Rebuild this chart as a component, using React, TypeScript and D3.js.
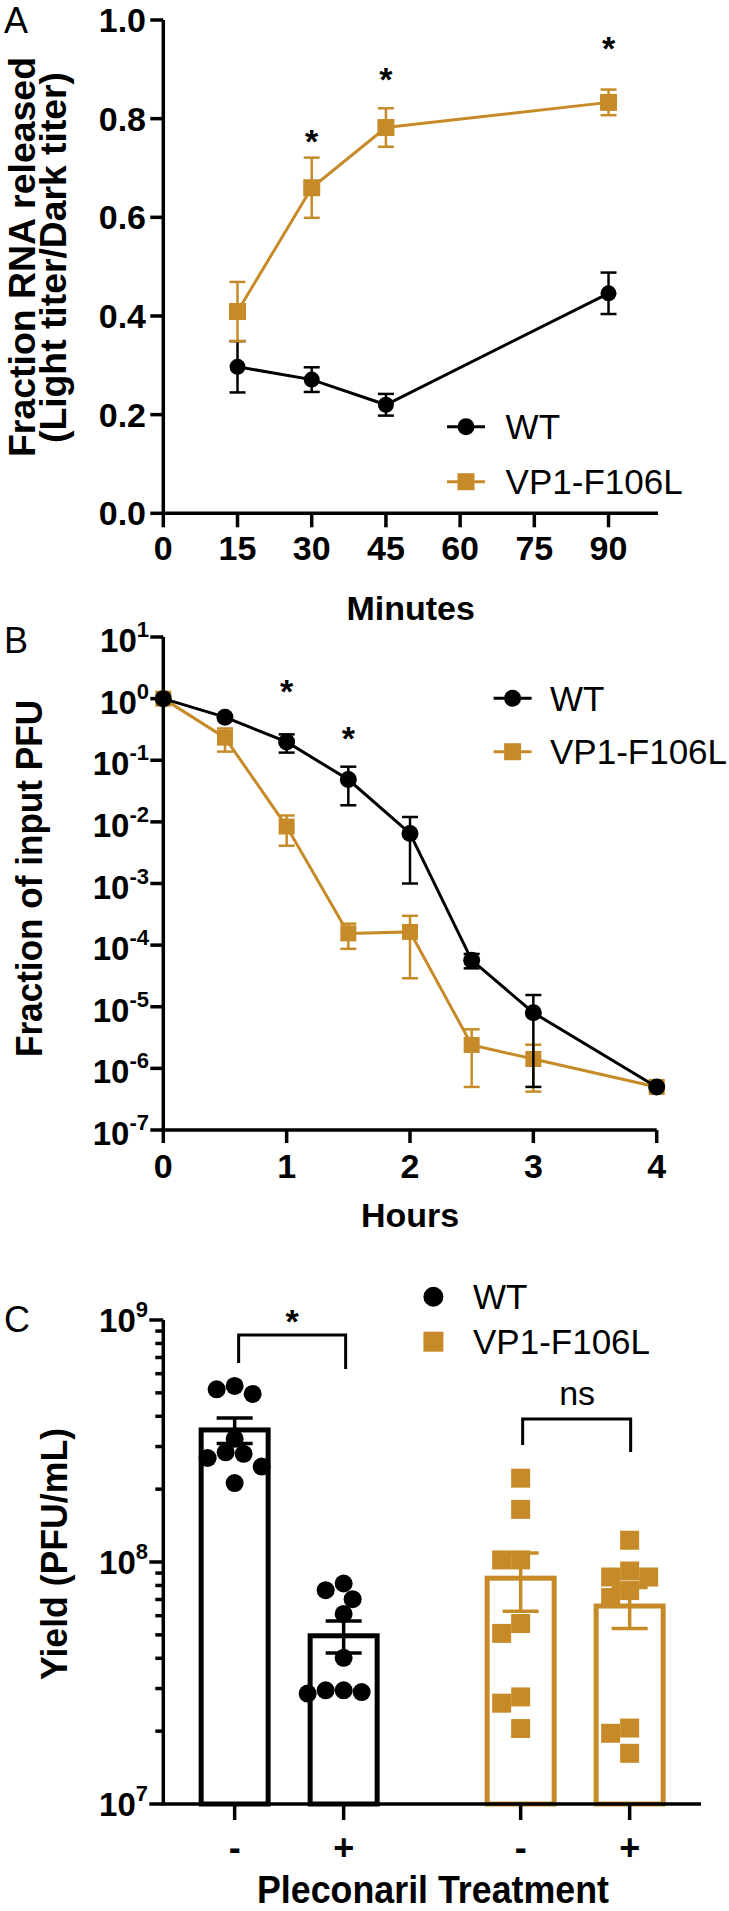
import * as d3 from 'd3';
import React from 'react';

const W = 729;
const H = 1911;
const ORANGE = '#C68B28';
const FONT = '"Liberation Sans", Arial, Helvetica, sans-serif';

// ---- panel A: RNA release ----
const minutes = [15, 30, 45, 90];
const wtRelease = [0.297, 0.271, 0.22, 0.446];
const wtReleaseSem = [0.052, 0.025, 0.022, 0.042];
const mutRelease = [0.409, 0.66, 0.782, 0.833];
const mutReleaseSem = [0.06, 0.061, 0.039, 0.026];
const minuteTicks = [0, 15, 30, 45, 60, 75, 90];
const releaseTicks = [0, 0.2, 0.4, 0.6, 0.8, 1.0];
const releaseStarMinutes = [30, 45, 90];
const releaseStarLevels = [0.77, 0.895, 0.959];

// ---- panel B: survival ----
const hours = [0, 0.5, 1, 1.5, 2, 2.5, 3, 4];
const wtSurvival = [1, 0.5, 0.198, 0.0486, 0.0065, 5.7e-5, 8e-6, 5e-7];
const wtSurvivalSem = [0, 0.03, 0.065, 0.03, 0.0055, 1.5e-5, 7.5e-6, 0];
const mutSurvival = [1, 0.233, 0.0084, 1.55e-4, 1.64e-4, 2.4e-6, 1.42e-6, 5e-7];
const mutSurvivalSem = [0, 0.095, 0.0043, 6.8e-5, 1.35e-4, 1.9e-6, 1e-6, 0];
const hourTicks = [0, 1, 2, 3, 4];
const pfuExponents = [1, 0, -1, -2, -3, -4, -5, -6, -7];
const survivalStarHours = [1, 1.5];
const survivalStarLevels = [1.75, 0.306];

// ---- panel C: yield ----
const groups = ['WT', 'VP1-F106L'];
const treatments = ['-', '+'];
const yieldWtMinus = [5.34e8, 4.95e8, 5.17e8, 3.23e8, 2.84e8, 2.69e8, 2.8e8, 2.48e8, 2.12e8];
const yieldWtPlus = [7.65e7, 8.15e7, 7.02e7, 6.1e7, 4.02e7, 2.95e7, 2.9e7, 2.86e7, 2.95e7];
const yieldMutMinus = [2.22e8, 1.65e8, 1.02e8, 1.02e8, 5.57e7, 5.07e7, 2.77e7, 2.61e7, 2.05e7];
const yieldMutPlus = [1.23e8, 9.18e7, 8.67e7, 8.67e7, 7.62e7, 7.13e7, 2.06e7, 1.96e7, 1.62e7];
const yieldExponents = [9, 8, 7];

const xA = d3.scaleLinear().domain([0, 100]).range([163.3, 658]);
const yA = d3.scaleLinear().domain([0, 1]).range([513.3, 20]);
const xB = d3.scaleLinear().domain([0, 4]).range([163.3, 656.7]);
const yB = d3.scaleLog().domain([1e-7, 10]).range([1130, 637]);
const yC = d3.scaleLog().domain([1e7, 1e9]).range([1804, 1320]);
const xGroup = d3.scalePoint<string>().domain(groups).range([163.3, 701]).padding(0.44);
const xTreat = d3.scalePoint<string>().domain(treatments).range([-54.5, 54.5]);

// simple beeswarm: place each point at the nearest free half-step offset
function swarm(ys: number[], size: number) {
  const order = d3.range(ys.length).sort((a, b) => ys[a] - ys[b]);
  const placed: { x: number; y: number }[] = [];
  const out: number[] = new Array(ys.length).fill(0);
  const step = size / 2;
  order.forEach(i => {
    for (let k = 0; k < 12; k++) {
      const cand = k === 0 ? 0 : (k % 2 === 0 ? 1 : -1) * Math.ceil(k / 2) * step;
      const ok = placed.every(p => Math.hypot(p.x - cand, p.y - ys[i]) >= size * 0.9);
      if (ok) {
        out[i] = cand;
        placed.push({ x: cand, y: ys[i] });
        break;
      }
    }
  });
  return out;
}

// rotated axis title, drawn from its bottom end upwards with a fixed length
function VTitle({ x, bottom, length, size, children }: any) {
  return (
    <text transform={`translate(${x},${bottom}) rotate(-90)`} fontSize={size} fontWeight="bold"
      textLength={length} lengthAdjust="spacingAndGlyphs">{children}</text>
  );
}

function ErrorBars({ xs, means, sems, color, cap, sx, sy }: any) {
  return (
    <g stroke={color} strokeWidth={2.5}>
      {means.map((m: number, i: number) => {
        if (sems[i] === 0) return null;
        const x = sx(xs[i]);
        const lo = sy(Math.max(m - sems[i], 1e-9));
        const hi = sy(m + sems[i]);
        return (
          <g key={i}>
            <line x1={x} x2={x} y1={lo} y2={hi} />
            <line x1={x - cap} x2={x + cap} y1={lo} y2={lo} />
            <line x1={x - cap} x2={x + cap} y1={hi} y2={hi} />
          </g>
        );
      })}
    </g>
  );
}

function Series({ xs, means, sems, color, square, sx, sy, size }: any) {
  const line = d3.line<number>().x((d, i) => sx(xs[i])).y(d => sy(d));
  return (
    <g>
      <ErrorBars xs={xs} means={means} sems={sems} color={color} cap={8} sx={sx} sy={sy} />
      <path d={line(means) || ''} fill="none" stroke={color} strokeWidth={3} />
      {means.map((m: number, i: number) =>
        square ? (
          <rect key={i} x={sx(xs[i]) - size} y={sy(m) - size} width={size * 2} height={size * 2} fill={color} />
        ) : (
          <circle key={i} cx={sx(xs[i])} cy={sy(m)} r={size} fill={color} />
        )
      )}
    </g>
  );
}

function LegendRow({ x, y, textX, label, color, square, withLine }: any) {
  const s = withLine ? 8.5 : 10;
  return (
    <g>
      {withLine && <line x1={x - 19} x2={x + 19} y1={y} y2={y} stroke={color} strokeWidth={3} />}
      {square ? (
        <rect x={x - s} y={y - s} width={s * 2} height={s * 2} fill={color} />
      ) : (
        <circle cx={x} cy={y} r={s} fill={color} />
      )}
      <text x={textX} y={y + 12.5} fontSize={35} fill="#000">{label}</text>
    </g>
  );
}

function PowerLabel({ x, y, exp }: any) {
  return (
    <text x={x} y={y} textAnchor="end" fontSize={33} fontWeight="bold">
      10<tspan dy={-15} fontSize={22}>{exp}</tspan>
    </text>
  );
}

function PanelA() {
  const [x0, x1] = xA.range();
  return (
    <g>
      <text x={4} y={33} fontSize={36}>A</text>
      <VTitle x={35} bottom={457} length={400} size={37}>Fraction RNA released</VTitle>
      <VTitle x={66} bottom={443} length={371} size={37}>(Light titer/Dark titer)</VTitle>
      <g stroke="#000" strokeWidth={3.5} fill="none">
        <path d={`M${x0},${yA(1)}V${yA(0)}H${x1}`} />
        {releaseTicks.map(t => <line key={t} x1={x0 - 13} x2={x0} y1={yA(t)} y2={yA(t)} />)}
        {minuteTicks.map(t => <line key={t} x1={xA(t)} x2={xA(t)} y1={yA(0)} y2={yA(0) + 14} />)}
      </g>
      {releaseTicks.map(t => (
        <text key={t} x={146} y={yA(t) + 12} textAnchor="end" fontSize={34} fontWeight="bold">{d3.format('.1f')(t)}</text>
      ))}
      {minuteTicks.map(t => (
        <text key={t} x={xA(t)} y={560} textAnchor="middle" fontSize={34} fontWeight="bold">{t}</text>
      ))}
      <text x={(x0 + x1) / 2} y={620} textAnchor="middle" fontSize={34} fontWeight="bold">Minutes</text>
      <Series xs={minutes} means={wtRelease} sems={wtReleaseSem} color="#000" sx={xA} sy={yA} size={8} />
      <Series xs={minutes} means={mutRelease} sems={mutReleaseSem} color={ORANGE} square sx={xA} sy={yA} size={8.5} />
      {releaseStarMinutes.map((m, i) => (
        <text key={m} x={xA(m)} y={yA(releaseStarLevels[i]) + 19.5} textAnchor="middle" fontSize={34} fontWeight="bold">*</text>
      ))}
      <LegendRow x={466} y={426.7} textX={505.6} label="WT" color="#000" withLine />
      <LegendRow x={466} y={481.7} textX={505.6} label="VP1-F106L" color={ORANGE} square withLine />
    </g>
  );
}

function PanelB() {
  const [x0, x1] = xB.range();
  return (
    <g>
      <text x={4} y={653} fontSize={36}>B</text>
      <VTitle x={42} bottom={1057} length={357} size={36}>Fraction of input PFU</VTitle>
      <g stroke="#000" strokeWidth={3.5} fill="none">
        <path d={`M${x0},${yB(10)}V${yB(1e-7)}H${x1}`} />
        {pfuExponents.map(e => <line key={e} x1={x0 - 13} x2={x0} y1={yB(10 ** e)} y2={yB(10 ** e)} />)}
        {hourTicks.map(t => <line key={t} x1={xB(t)} x2={xB(t)} y1={yB(1e-7)} y2={yB(1e-7) + 13} />)}
      </g>
      {pfuExponents.map(e => <PowerLabel key={e} x={149} y={yB(10 ** e) + 15} exp={e} />)}
      {hourTicks.map(t => (
        <text key={t} x={xB(t)} y={1178} textAnchor="middle" fontSize={34} fontWeight="bold">{t}</text>
      ))}
      <text x={(x0 + x1) / 2} y={1227} textAnchor="middle" fontSize={34} fontWeight="bold">Hours</text>
      <Series xs={hours} means={mutSurvival} sems={mutSurvivalSem} color={ORANGE} square sx={xB} sy={yB} size={8} />
      <Series xs={hours} means={wtSurvival} sems={wtSurvivalSem} color="#000" sx={xB} sy={yB} size={8.5} />
      {survivalStarHours.map((h, i) => (
        <text key={h} x={xB(h)} y={yB(survivalStarLevels[i]) + 19.5} textAnchor="middle" fontSize={34} fontWeight="bold">*</text>
      ))}
      <LegendRow x={512.6} y={698.3} textX={550} label="WT" color="#000" withLine />
      <LegendRow x={512.6} y={751.7} textX={550} label="VP1-F106L" color={ORANGE} square withLine />
    </g>
  );
}

function YieldBar({ group, treat, values, color, square }: any) {
  const cx = (xGroup(group) as number) + (xTreat(treat) as number);
  const mean = d3.mean(values) as number;
  const sem = (d3.deviation(values) as number) / Math.sqrt(values.length);
  const ys = values.map((v: number) => yC(v));
  const size = square ? 19 : 18;
  const offs = swarm(ys, size);
  const top = yC(mean);
  return (
    <g>
      <rect x={cx - 33.5} y={top} width={67} height={yC(1e7) - top} fill="none" stroke={color} strokeWidth={5} />
      <g stroke={color} strokeWidth={3.5}>
        <line x1={cx} x2={cx} y1={yC(mean - sem)} y2={yC(mean + sem)} />
        <line x1={cx - 18} x2={cx + 18} y1={yC(mean + sem)} y2={yC(mean + sem)} />
        <line x1={cx - 18} x2={cx + 18} y1={yC(mean - sem)} y2={yC(mean - sem)} />
      </g>
      {ys.map((y: number, i: number) =>
        square ? (
          <rect key={i} x={cx + offs[i] - 9.5} y={y - 9.5} width={19} height={19} fill={color} />
        ) : (
          <circle key={i} cx={cx + offs[i]} cy={y} r={9} fill={color} />
        )
      )}
    </g>
  );
}

function PanelC() {
  const x0 = 163.3;
  const x1 = 701;
  const minor: number[] = [];
  [1e7, 1e8].forEach(d => d3.range(2, 10).forEach(k => minor.push(k * d)));
  const barX = (g: string, t: string) => (xGroup(g) as number) + (xTreat(t) as number);
  return (
    <g>
      <text x={4} y={1332} fontSize={36}>C</text>
      <VTitle x={67} bottom={1680} length={252} size={36}>Yield (PFU/mL)</VTitle>
      <YieldBar group="WT" treat="-" values={yieldWtMinus} color="#000" />
      <YieldBar group="WT" treat="+" values={yieldWtPlus} color="#000" />
      <YieldBar group="VP1-F106L" treat="-" values={yieldMutMinus} color={ORANGE} square />
      <YieldBar group="VP1-F106L" treat="+" values={yieldMutPlus} color={ORANGE} square />
      <g stroke="#000" strokeWidth={3.5} fill="none">
        <path d={`M${x0},${yC(1e9)}V${yC(1e7)}H${x1}`} />
        {yieldExponents.map(e => <line key={e} x1={x0 - 14} x2={x0} y1={yC(10 ** e)} y2={yC(10 ** e)} />)}
        {minor.map(v => <line key={v} x1={x0 - 8} x2={x0} y1={yC(v)} y2={yC(v)} />)}
        {groups.map(g => treatments.map(t => (
          <line key={g + t} x1={barX(g, t)} x2={barX(g, t)} y1={yC(1e7)} y2={yC(1e7) + 16} />
        )))}
        <path d={`M${barX('WT', '-') + 4},1363V1335H${barX('WT', '+') + 2}V1369`} strokeWidth={3} />
        <path d={`M${barX('VP1-F106L', '-') + 2},1445V1419H${barX('VP1-F106L', '+') + 1}V1452`} strokeWidth={3} />
      </g>
      {yieldExponents.map(e => <PowerLabel key={e} x={148} y={yC(10 ** e) + 12} exp={e} />)}
      {groups.map(g => treatments.map(t => (
        <text key={g + t} x={barX(g, t)} y={1860} textAnchor="middle" fontSize={36} fontWeight="bold">{t}</text>
      )))}
      <text x={(barX('WT', '-') + barX('WT', '+')) / 2 + 3} y={1333} textAnchor="middle" fontSize={34} fontWeight="bold">*</text>
      <text x={(barX('VP1-F106L', '-') + barX('VP1-F106L', '+')) / 2 + 2} y={1405} textAnchor="middle" fontSize={34}>ns</text>
      <text x={257} y={1903} fontSize={38} fontWeight="bold"
        textLength={352} lengthAdjust="spacingAndGlyphs">Pleconaril Treatment</text>
      <LegendRow x={433.4} y={1296.7} textX={473} label="WT" color="#000" />
      <LegendRow x={433.4} y={1341.7} textX={473} label="VP1-F106L" color={ORANGE} square />
    </g>
  );
}

export default function App() {
  return (
    <svg width={W} height={H} viewBox={`0 0 ${W} ${H}`} fontFamily={FONT}
      style={{ position: 'absolute', left: 0, top: 0, background: '#fff' }}>
      <rect width={W} height={H} fill="#fff" />
      <PanelA />
      <PanelB />
      <PanelC />
    </svg>
  );
}
